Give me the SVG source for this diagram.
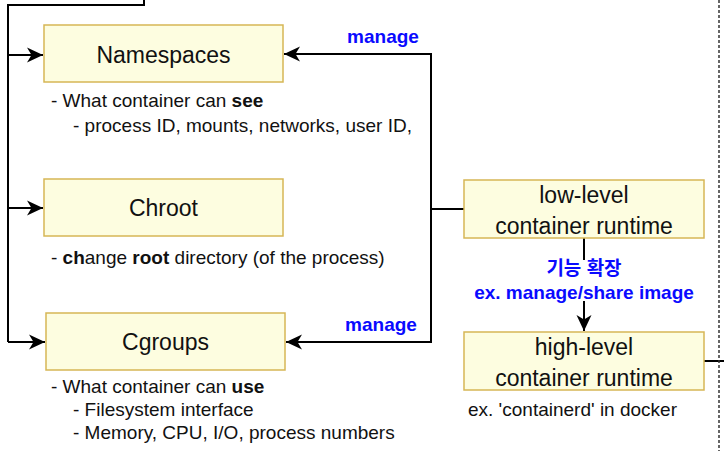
<svg xmlns="http://www.w3.org/2000/svg" width="724" height="451" viewBox="0 0 724 451">
<style>
.box{fill:#fdfde0;stroke:#d6b656;stroke-width:1.5}
.bt{font-family:"Liberation Sans",Arial,sans-serif;font-size:23px;fill:#111;text-anchor:middle}
.an{font-family:"Liberation Sans",Arial,sans-serif;font-size:19px;fill:#111}
.lb{font-family:"Liberation Sans","Noto Sans CJK KR",Arial,sans-serif;font-size:19px;font-weight:bold;fill:#0a0aff;text-anchor:middle}
.ln{fill:none;stroke:#000;stroke-width:2}
</style>
<defs>
<marker id="ar" markerWidth="18" markerHeight="18" refX="16" refY="9" orient="auto" markerUnits="userSpaceOnUse">
<path d="M0,1.5 L16,9 L0,16.5 L4.5,9 Z" fill="#000"/>
</marker>
</defs>
<g id="connectors">
<path class="ln" d="M144,0 V5 H8 V342"/>
<path class="ln" d="M8,55 H43" marker-end="url(#ar)"/>
<path class="ln" d="M8,208 H43" marker-end="url(#ar)"/>
<path class="ln" d="M8,342 H45" marker-end="url(#ar)"/>
<path class="ln" d="M464,209 H431"/>
<path class="ln" d="M431,342 V54 H284" marker-end="url(#ar)"/>
<path class="ln" d="M431,300 V342 H286" marker-end="url(#ar)"/>
<path class="ln" d="M584,238 V331" marker-end="url(#ar)"/>
<path class="ln" d="M704,361 H724"/>
<path d="M719,0 V451" fill="none" stroke="#333" stroke-width="1.5" stroke-dasharray="3,2"/>
<rect x="472" y="260" width="225" height="41" fill="#fff"/>
<text class="lb" x="383" y="43">manage</text>
<text class="lb" x="381" y="331">manage</text>
<text class="lb" x="584" y="275">기능 확장</text>
<text class="lb" x="584" y="299">ex. manage/share image</text>
</g>
<g id="namespaces">
<rect class="box" x="44" y="25" width="239" height="57"/>
<text class="bt" x="163.5" y="63">Namespaces</text>
<text class="an" x="51" y="107">- What container can <tspan font-weight="bold">see</tspan></text>
<text class="an" x="73" y="132">- process ID, mounts, networks, user ID,</text>
</g>
<g id="chroot">
<rect class="box" x="44" y="179" width="239" height="57"/>
<text class="bt" x="163.5" y="216">Chroot</text>
<text class="an" x="51" y="264">- <tspan font-weight="bold">ch</tspan>ange <tspan font-weight="bold">root</tspan> directory (of the process)</text>
</g>
<g id="cgroups">
<rect class="box" x="46" y="313" width="239" height="57"/>
<text class="bt" x="165.5" y="350">Cgroups</text>
<text class="an" x="51" y="393">- What container can <tspan font-weight="bold">use</tspan></text>
<text class="an" x="73" y="416">- Filesystem interface</text>
<text class="an" x="73" y="439">- Memory, CPU, I/O, process numbers</text>
</g>
<g id="lowlevel">
<rect class="box" x="464" y="180" width="240" height="58"/>
<text class="bt" x="584" y="203">low-level</text>
<text class="bt" x="584" y="234">container runtime</text>
</g>
<g id="highlevel">
<rect class="box" x="464" y="332" width="240" height="58"/>
<text class="bt" x="584" y="355">high-level</text>
<text class="bt" x="584" y="386">container runtime</text>
<text class="an" x="468" y="416">ex. 'containerd' in docker</text>
</g>
</svg>
